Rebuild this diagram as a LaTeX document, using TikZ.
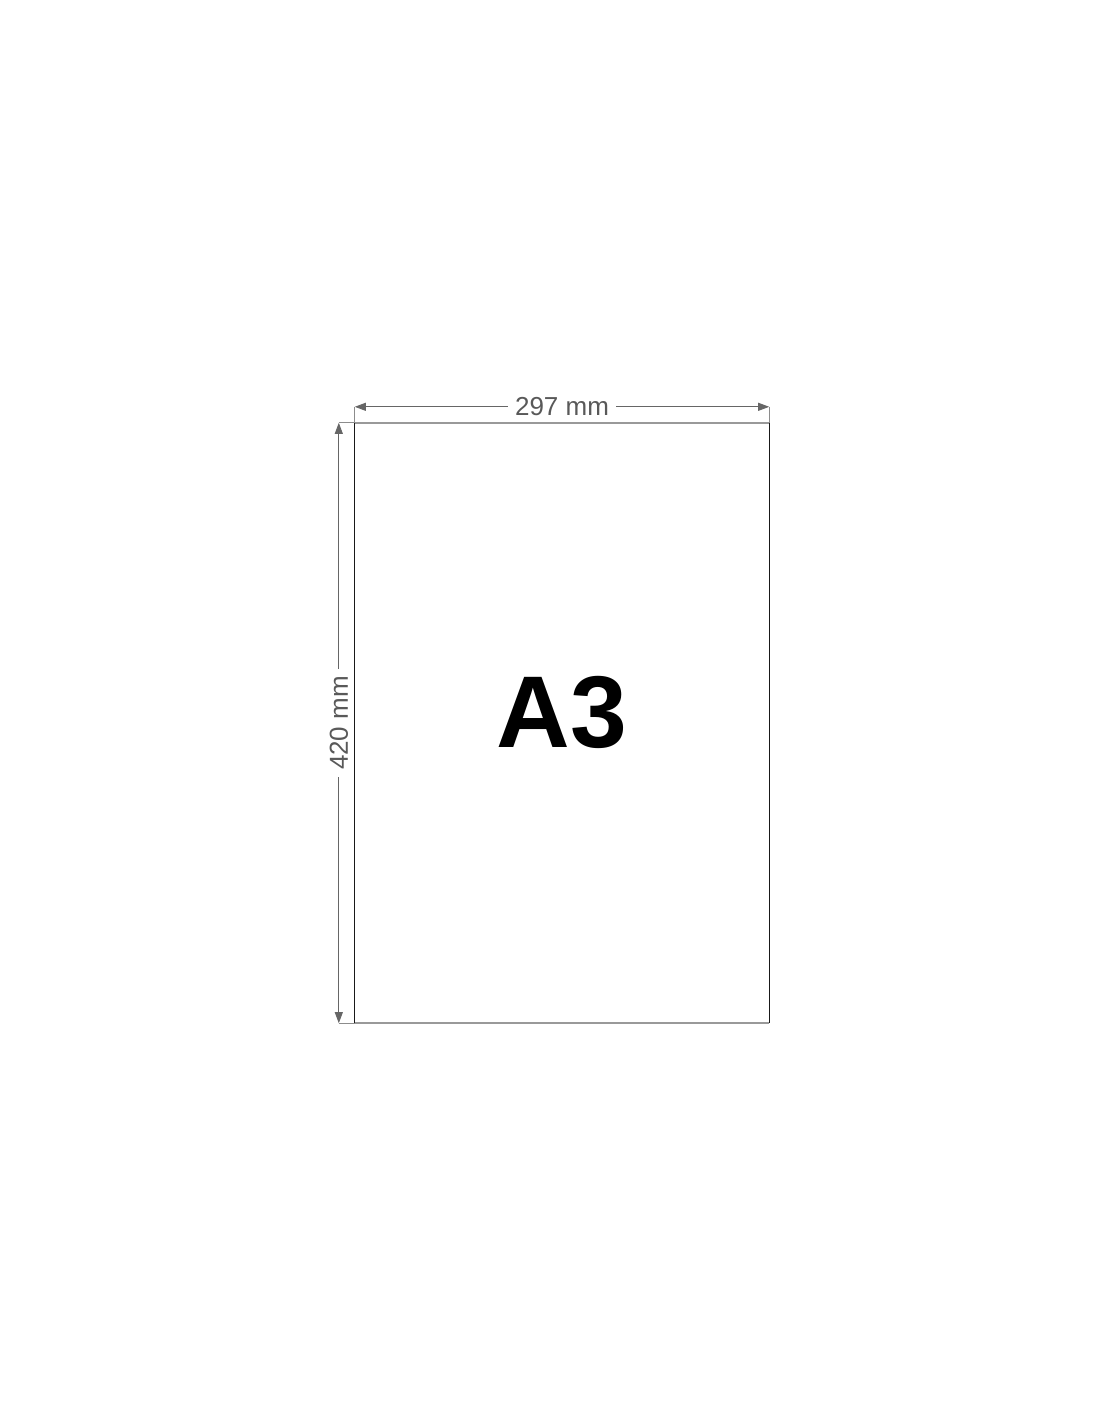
\documentclass[tikz,border=0pt]{standalone}
\usepackage{fontspec}
\setmainfont{Liberation Sans}
\usetikzlibrary{arrows.meta, positioning}

\begin{document}
\begin{tikzpicture}[
    x=1pt, y=-1pt,
    sheet/.style = {
      minimum width=414pt,
      minimum height=600pt,
      inner sep=0pt
    },
    side/.style    = {draw=black!90, line width=1.2pt},
    rim/.style     = {draw=black!40, line width=2pt},
    dimline/.style = {draw=black!60, line width=0.9pt,
                      {Triangle[length=11pt,width=8pt]}-{Triangle[length=11pt,width=8pt]}},
    extline/.style = {draw=black!45, line width=1pt},
    dimtext/.style = {font=\fontsize{26}{30}\selectfont, text=black!65,
                      fill=white, inner xsep=7pt, inner ysep=3pt},
    bigtext/.style = {font=\fontsize{102}{110}\selectfont\bfseries}
  ]

    \useasboundingbox (0,0) rectangle (1100,1422);

    \node[sheet] (sheet) at (562,723) {};
    \node[bigtext, yshift=11pt] (name) at (sheet.center) {A3};

    % sheet outline
    \draw[rim] (sheet.north west) -- (sheet.north east);
    \draw[rim] (sheet.south west) -- (sheet.south east);
    \draw[side] (sheet.south west) -- (sheet.north west);
    \draw[side] (sheet.south east) -- (sheet.north east);

    % dimension ends
    \coordinate[above=16pt of sheet.north west] (wleft);
    \coordinate[above=16pt of sheet.north east] (wright);
    \coordinate[left=16pt of sheet.north west] (htop);
    \coordinate[left=16pt of sheet.south west] (hbottom);

    \draw[extline] (sheet.north west) -- (wleft);
    \draw[extline] (sheet.north east) -- (wright);
    \draw[extline] (sheet.north west) -- (htop);
    \draw[extline] (sheet.south west) -- (hbottom);

    \draw[dimline] (wleft) --
      node[pos=0.5, dimtext] (width) {297 mm}
      (wright);

    \draw[dimline] (hbottom) --
      node[pos=0.5, dimtext, rotate=90] (height) {420 mm}
      (htop);

  \end{tikzpicture}
\end{document}
